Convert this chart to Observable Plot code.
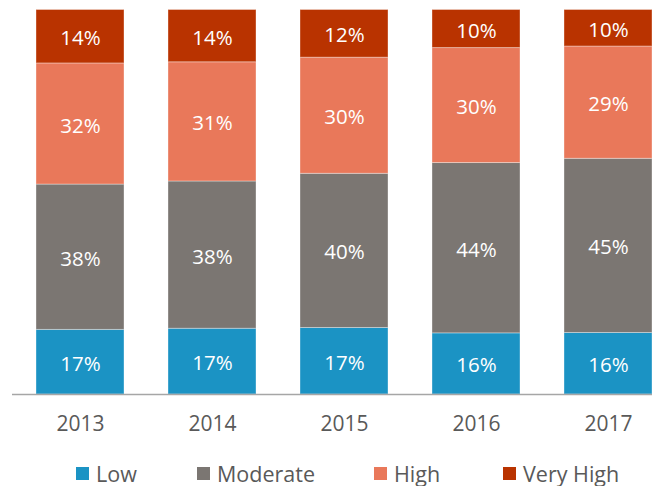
<!DOCTYPE html>
<html>
<head>
<meta charset="utf-8">
<script src="https://cdn.jsdelivr.net/npm/d3@7"></script>
<script src="https://cdn.jsdelivr.net/npm/@observablehq/plot@0.6"></script>
<style>
  html, body { margin: 0; padding: 0; background: #fff; overflow: hidden; width: 652px; height: 486px; }
  #chart { position: relative; width: 652px; }
  #chart svg { overflow: visible; display: block; }
  .legend { display: flex; align-items: center; padding-left: 76px; padding-top: 6px; height: 30px;
            font-family: "Open Sans", sans-serif; font-size: 21.5px; color: #595959; white-space: nowrap; }
  .legend .item { display: flex; align-items: center; }
  .legend .sw { width: 13px; height: 13px; margin-right: 7px; flex: none; }
</style>
</head>
<body>
<div id="chart"></div>
<script>
const years = ["2013", "2014", "2015", "2016", "2017"];
const levels = ["Low", "Moderate", "High", "Very High"];
const low      = [16.8, 17.1, 17.3, 15.9, 16.0];
const moderate = [37.8, 38.3, 40.1, 44.3, 45.3];
const high     = [31.5, 31.0, 30.2, 29.9, 29.2];
const veryHigh = [13.9, 13.6, 12.4, 9.9, 9.5];
const colors = ["#1b93c4", "#7b7672", "#e9785a", "#b93300"];
const legendWidths = [121, 177, 129, 140];

const series = [low, moderate, high, veryHigh];
const rows = [];
years.forEach((year, i) => {
  levels.forEach((level, j) => rows.push({year, level, value: series[j][i]}));
});

const font = '"Open Sans", sans-serif';
const stackOpts = {offset: "normalize", order: levels};

const plot = Plot.plot({
  width: 652,
  height: 452,
  marginTop: 9.5,
  marginBottom: 58,
  marginLeft: 12,
  marginRight: 0,
  style: {fontFamily: font, background: "transparent", overflow: "visible"},
  x: {type: "band", domain: years, range: [14, 674], paddingInner: 1/3, paddingOuter: 1/6, label: null},
  y: {domain: [0, 1], axis: null},
  color: {domain: levels, range: colors},
  marks: [
    Plot.barY(rows, Plot.stackY({...stackOpts, x: "year", y: "value", z: "level", fill: "level",
      stroke: "white", strokeOpacity: 0.35, strokeWidth: 1})),
    Plot.text(rows, Plot.stackY({...stackOpts, x: "year", y: "value", z: "level",
      text: d => Math.round(d.value) + "%", fill: "white", fontSize: 20.5, dy: 2})),
    Plot.ruleY([0], {stroke: "#a6a6a6", strokeWidth: 1.5}),
    Plot.axisX({tickSize: 0, tickPadding: 22, fontSize: 21, color: "#595959", fill: "#595959"})
  ]
});
document.getElementById("chart").appendChild(plot);

const legend = document.createElement("div");
legend.className = "legend";
levels.forEach((level, j) => {
  const item = document.createElement("div");
  item.className = "item";
  item.style.width = legendWidths[j] + "px";
  const sw = document.createElement("span");
  sw.className = "sw";
  sw.style.background = colors[j];
  const label = document.createElement("span");
  label.textContent = level;
  item.appendChild(sw);
  item.appendChild(label);
  legend.appendChild(item);
});
document.getElementById("chart").appendChild(legend);
</script>
</body>
</html>
